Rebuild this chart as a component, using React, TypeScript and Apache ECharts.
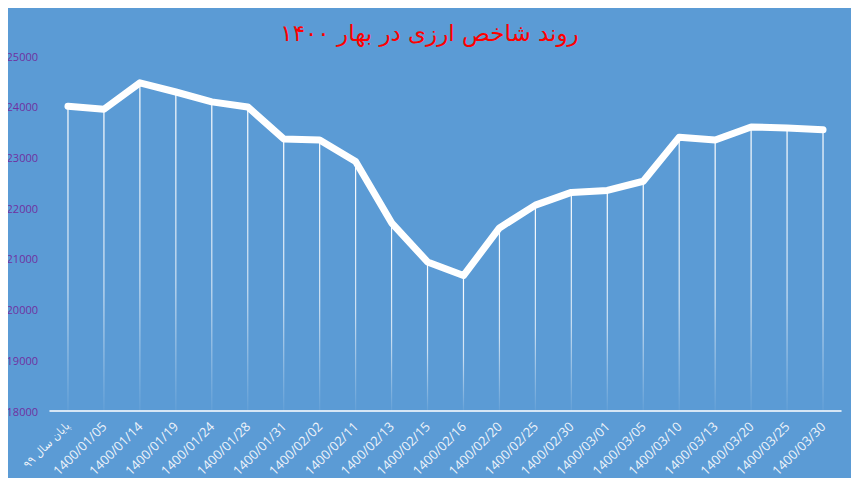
import React, { useEffect, useRef } from "react";
import * as echarts from "echarts";

const titleText = "روند شاخص ارزی در بهار ۱۴۰۰";

const categories = [
  "پایان سال ۹۹",
  "1400/01/05",
  "1400/01/14",
  "1400/01/19",
  "1400/01/24",
  "1400/01/28",
  "1400/01/31",
  "1400/02/02",
  "1400/02/11",
  "1400/02/13",
  "1400/02/15",
  "1400/02/16",
  "1400/02/20",
  "1400/02/25",
  "1400/02/30",
  "1400/03/01",
  "1400/03/05",
  "1400/03/10",
  "1400/03/13",
  "1400/03/20",
  "1400/03/25",
  "1400/03/30",
];

const indexValues = [
  24010, 23950, 24470, 24290, 24095, 23995, 23365, 23345, 22920, 21710,
  20940, 20670, 21610, 22060, 22310, 22350, 22530, 23400, 23345, 23600,
  23580, 23545,
];

const yMin = 18000;
const yMax = 25000;
const yStep = 1000;

export default function App() {
  const ref = useRef<HTMLDivElement>(null);

  useEffect(() => {
    if (!ref.current) return;
    const chart = echarts.init(ref.current, undefined, { renderer: "svg" });
    chart.setOption({
      animation: false,
      backgroundColor: "#5B9BD5",
      title: {
        text: titleText,
        left: "center",
        top: 16,
        textStyle: {
          color: "#FF0000",
          fontSize: 23,
          fontWeight: "normal",
          fontFamily: "DejaVu Sans",
        },
      },
      grid: { left: 50, right: 18, top: 56, bottom: 75 },
      xAxis: {
        type: "category",
        data: categories,
        boundaryGap: true,
        axisLine: { show: true, lineStyle: { color: "#FFFFFF", width: 1.5 } },
        axisTick: { show: false },
        axisLabel: {
          rotate: 45,
          interval: 0,
          margin: 13,
          color: "#EEF3FA",
          fontSize: 13,
          fontFamily: "Open Sans",
          formatter: (v: string) => (/^\d/.test(v) ? v : `{fa|${v}}`),
          rich: {
            fa: {
              fontSize: 11,
              fontFamily: "DejaVu Sans",
              color: "#EEF3FA",
            },
          },
        },
        splitLine: { show: false },
      },
      yAxis: {
        type: "value",
        min: yMin,
        max: yMax,
        interval: yStep,
        axisLine: { show: false },
        axisTick: { show: false },
        splitLine: { show: false },
        axisLabel: {
          color: "#7030A0",
          fontSize: 11,
          margin: 12,
          fontFamily: "Open Sans",
          formatter: (v: number) => String(v),
        },
      },
      series: [
        {
          type: "bar",
          data: indexValues,
          barWidth: 1.2,
          silent: true,
          itemStyle: {
            color: new echarts.graphic.LinearGradient(0, 0, 0, 1, [
              { offset: 0, color: "rgba(255,255,255,1)" },
              { offset: 0.6, color: "rgba(255,255,255,0.7)" },
              { offset: 1, color: "rgba(255,255,255,0.05)" },
            ]),
          },
          z: 1,
        },
        {
          type: "line",
          data: indexValues,
          symbol: "none",
          lineStyle: { color: "#FFFFFF", width: 7, cap: "round", join: "round" },
          z: 2,
        },
      ],
    });
    return () => chart.dispose();
  }, []);

  return <div ref={ref} style={{ width: 859, height: 486, margin: -8 }} />;
}
